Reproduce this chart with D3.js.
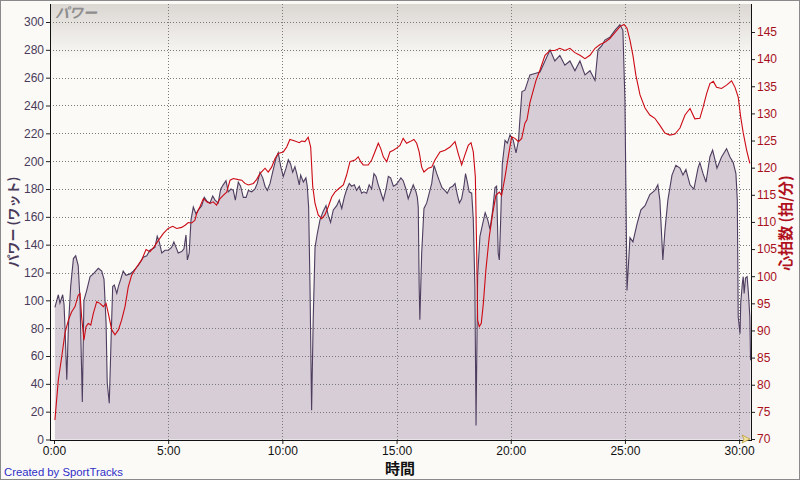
<!DOCTYPE html>
<html>
<head>
<meta charset="utf-8">
<script src="https://cdn.jsdelivr.net/npm/d3@7/dist/d3.min.js"></script>
<style>
  body { margin: 0; background: #fbfaf7; }
  svg { display: block; }
</style>
</head>
<body>
<div id="chart"></div>
<script>
// power samples (minutes, watts)
const powerMin = [0.04,0.19,0.26,0.38,0.44,0.48,0.56,0.63,0.73,0.85,0.95,1.06,1.14,1.24,1.31,1.43,1.58,1.72,1.94,2.09,2.19,2.28,2.33,2.42,2.50,2.57,2.64,2.75,2.82,2.92,3.03,3.15,3.33,3.47,3.69,3.91,4.06,4.20,4.42,4.52,4.61,4.72,4.86,5.00,5.15,5.25,5.37,5.44,5.59,5.69,5.78,5.84,5.92,6.00,6.10,6.22,6.32,6.47,6.58,6.71,6.83,6.95,7.05,7.19,7.30,7.41,7.53,7.63,7.75,7.85,7.94,8.07,8.17,8.29,8.41,8.51,8.66,8.80,8.90,9.02,9.14,9.24,9.34,9.46,9.60,9.72,9.82,9.93,10.04,10.16,10.26,10.36,10.45,10.55,10.63,10.74,10.80,10.92,11.03,11.09,11.15,11.21,11.28,11.35,11.43,11.53,11.65,11.79,11.91,12.01,12.11,12.23,12.38,12.49,12.60,12.71,12.82,12.93,13.03,13.15,13.25,13.37,13.47,13.57,13.69,13.80,13.91,14.01,14.10,14.20,14.30,14.42,14.54,14.64,14.74,14.86,14.97,15.07,15.19,15.29,15.41,15.51,15.62,15.73,15.85,15.91,15.95,15.99,16.02,16.10,16.20,16.32,16.43,16.54,16.64,16.76,16.87,16.99,17.11,17.22,17.34,17.46,17.56,17.66,17.75,17.85,17.95,18.02,18.10,18.18,18.29,18.36,18.43,18.48,18.55,18.65,18.77,18.88,18.99,19.09,19.21,19.31,19.38,19.45,19.50,19.56,19.63,19.75,19.85,19.97,20.11,20.23,20.34,20.40,20.49,20.62,20.84,21.06,21.28,21.50,21.72,21.93,22.15,22.37,22.59,22.81,23.03,23.25,23.47,23.69,23.82,23.99,24.12,24.34,24.56,24.78,24.91,25.00,25.09,25.22,25.35,25.53,25.70,25.88,26.09,26.31,26.44,26.53,26.66,26.75,26.88,27.06,27.23,27.41,27.54,27.67,27.85,28.02,28.20,28.28,28.42,28.55,28.72,28.84,29.03,29.23,29.45,29.60,29.74,29.86,29.92,29.96,30.04,30.07,30.14,30.18,30.22,30.28,30.35,30.40,30.47,30.50];
const powerW = [95,104,98,104,97,81,43,81,110,130,132,125,100,27,100,107,117,119,123,121,115,84,41,26,72,110,111,105,110,115,121,118,119,121,125,131,132,136,138,146,142,134,136,136,138,142,137,134,135,137,147,129,134,158,167,162,165,168,174,171,170,175,172,170,180,183,186,178,180,179,172,185,182,174,174,179,178,180,184,192,188,182,179,184,194,202,206,196,189,195,201,198,192,196,191,183,190,185,188,182,167,110,21,86,138,148,158,164,168,161,156,165,168,172,166,174,180,184,182,183,179,182,177,178,177,183,180,191,189,183,178,172,180,189,188,182,183,185,188,186,180,173,178,183,178,174,167,110,86,134,166,170,177,184,197,191,186,181,179,177,181,182,184,176,170,173,182,191,185,178,177,158,110,10,117,146,155,163,158,151,165,181,182,134,129,158,198,215,213,219,215,206,215,230,250,251,262,263,264,272,280,272,276,269,272,265,272,262,265,258,280,283,287,289,294,298,294,244,107,145,142,155,165,168,176,179,183,172,129,150,172,190,197,195,190,194,183,180,195,199,191,185,203,208,195,203,209,203,199,191,172,88,76,98,112,117,105,116,117,107,88,57];

// heart rate samples (minutes, bpm)
const hrMin = [0.04,0.19,0.34,0.48,0.63,0.77,0.92,1.06,1.14,1.21,1.31,1.40,1.50,1.61,1.72,1.87,2.01,2.16,2.28,2.38,2.53,2.67,2.82,2.96,3.11,3.25,3.40,3.62,3.84,4.03,4.20,4.38,4.57,4.79,5.00,5.20,5.37,5.59,5.74,5.88,6.03,6.17,6.25,6.39,6.54,6.69,6.83,6.97,7.12,7.27,7.41,7.56,7.71,7.85,8.07,8.22,8.36,8.51,8.73,8.87,9.02,9.24,9.38,9.53,9.68,9.82,10.04,10.19,10.33,10.55,10.74,10.84,10.99,11.13,11.24,11.33,11.43,11.57,11.72,11.86,12.01,12.16,12.30,12.49,12.67,12.81,12.96,13.18,13.32,13.43,13.54,13.76,13.91,14.05,14.20,14.30,14.42,14.57,14.71,14.86,15.00,15.15,15.29,15.44,15.59,15.76,15.88,15.99,16.10,16.20,16.39,16.54,16.68,16.90,17.12,17.34,17.56,17.70,17.85,17.99,18.14,18.26,18.36,18.45,18.51,18.55,18.62,18.71,18.80,18.91,19.06,19.21,19.35,19.50,19.60,19.75,19.89,20.04,20.18,20.34,20.48,20.62,20.71,20.84,21.10,21.28,21.50,21.72,21.93,22.15,22.37,22.59,22.81,23.03,23.25,23.47,23.69,23.91,24.12,24.34,24.56,24.78,24.96,25.09,25.22,25.35,25.48,25.66,25.88,26.09,26.31,26.53,26.75,26.97,27.19,27.41,27.63,27.85,28.06,28.28,28.42,28.58,28.72,28.87,29.01,29.23,29.45,29.67,29.82,29.96,30.07,30.18,30.33,30.47];
const hrBpm = [73.5,80.9,85.2,89.5,91.9,93.4,94.4,96.5,96.8,92.5,88.2,90.7,91.3,91.0,93.1,95.3,95.0,94.4,95.0,93.1,90.1,89.2,90.1,91.9,94.4,98.0,100.2,101.7,103.0,104.9,104.5,105.4,106.6,107.9,108.8,109.2,108.8,109.0,109.4,109.9,109.8,110.3,111.6,112.8,114.3,113.7,113.4,113.7,113.1,114.3,114.9,115.5,117.7,118.0,117.8,117.7,117.1,116.8,117.1,117.8,118.9,119.9,119.2,120.1,121.7,122.6,122.9,123.8,125.2,124.9,124.6,124.9,124.8,125.6,123.8,116.5,113.4,111.3,110.6,111.3,112.8,114.6,115.5,116.2,116.8,118.6,121.1,121.4,122.0,121.1,120.5,120.5,121.4,122.9,124.5,123.6,122.0,121.1,122.9,123.2,123.6,124.1,125.4,124.5,124.8,125.2,124.5,122.9,120.1,119.2,119.9,120.1,121.4,122.9,123.2,123.8,124.8,122.6,120.5,122.3,124.1,124.6,122.9,118.3,104.2,91.9,90.7,91.3,95.0,101.1,107.3,111.6,114.9,115.5,114.9,118.3,122.0,125.7,125.4,124.8,125.4,128.2,128.8,132,136,138,140.7,141.6,141.6,142,141.6,142,141.2,140.7,140.1,140.7,142,142.7,143.1,143.8,144.9,146,146.4,145.7,143.5,140.7,137,133.4,131,129.7,129.1,127.8,126.4,126,126.2,127.3,129.7,130.9,129,129.1,131.1,133.7,135.5,135.9,134.8,134.6,135.2,136,134.8,133,129.3,126.4,123.2,120.8];

const timeTicks = [0, 5, 10, 15, 20, 25, 30];
const powerTicks = d3.range(0, 301, 20);
const hrTicks = d3.range(70, 146, 5);

const W = 800, H = 480;
const LEFT = 50, RIGHT = 751, TOP = 4, BOTTOM = 440;

const svg = d3.select("#chart").append("svg")
    .attr("width", W)
    .attr("height", H);

svg.append("rect")
    .attr("x", 0.5).attr("y", 0.5)
    .attr("width", W - 1).attr("height", H - 1)
    .attr("fill", "#fbfaf7")
    .attr("stroke", "#8a8a8a");

// scales
const x = d3.scaleLinear().domain([0, 30.52]).range([54, 751]);
const yP = d3.scaleLinear().domain([0, 300]).range([439.5, 22]);
const yH = d3.scaleLinear().domain([70, 145]).range([439, 32]);

// plot background gradient
const defs = svg.append("defs");
const grad = defs.append("linearGradient")
    .attr("id", "topfade")
    .attr("x1", 0).attr("y1", 0).attr("x2", 0).attr("y2", 1);
grad.append("stop").attr("offset", "0%").attr("stop-color", "#dbd7d3");
grad.append("stop").attr("offset", "13%").attr("stop-color", "#fbfaf7");
grad.append("stop").attr("offset", "100%").attr("stop-color", "#fbfaf7");

svg.append("rect")
    .attr("x", LEFT).attr("y", TOP)
    .attr("width", RIGHT - LEFT).attr("height", BOTTOM - TOP)
    .attr("fill", "url(#topfade)");

const powerData = powerMin.map((t, i) => ({ t: t, v: powerW[i] }));
const hrData = hrMin.map((t, i) => ({ t: t, v: hrBpm[i] }));

// area under the power line
const area = d3.area()
    .x(d => x(d.t))
    .y0(yP(0))
    .y1(d => yP(d.v));

svg.append("path")
    .datum(powerData)
    .attr("d", area)
    .attr("fill", "#d6cdd7");

// grid
const grid = svg.append("g")
    .attr("stroke", "#7a7a7a")
    .attr("stroke-dasharray", "1,2")
    .attr("shape-rendering", "crispEdges");

grid.selectAll(".hg")
    .data(powerTicks.filter(d => d > 0))
    .enter().append("line")
    .attr("x1", LEFT).attr("x2", RIGHT)
    .attr("y1", d => Math.round(yP(d)) + 0.5)
    .attr("y2", d => Math.round(yP(d)) + 0.5);

grid.selectAll(".vg")
    .data(timeTicks.filter(d => d > 0))
    .enter().append("line")
    .attr("y1", TOP).attr("y2", BOTTOM)
    .attr("x1", d => Math.round(x(d)) + 0.5)
    .attr("x2", d => Math.round(x(d)) + 0.5);

// power line
const pLine = d3.line()
    .x(d => x(d.t))
    .y(d => yP(d.v));

svg.append("path")
    .datum(powerData)
    .attr("d", pLine)
    .attr("fill", "none")
    .attr("stroke", "#4e3d5f")
    .attr("stroke-width", 1.1);

// heart rate line
const hLine = d3.line()
    .x(d => x(d.t))
    .y(d => yH(d.v));

svg.append("path")
    .datum(hrData)
    .attr("d", hLine)
    .attr("fill", "none")
    .attr("stroke", "#cc0a14")
    .attr("stroke-width", 1.1);

// axes
const tickFont = "'Liberation Sans Narrow', 'Liberation Sans', Arial, sans-serif";

const leftAxis = svg.append("g")
    .attr("transform", `translate(${LEFT},0)`)
    .call(d3.axisLeft(yP).tickValues(powerTicks).tickSize(4).tickSizeOuter(0).tickPadding(2));
leftAxis.select(".domain").remove();
leftAxis.selectAll("text")
    .attr("fill", "#4a3a5a")
    .style("font-family", tickFont)
    .style("font-size", "12px");
leftAxis.selectAll("line").attr("stroke", "#222");

const rightAxis = svg.append("g")
    .attr("transform", `translate(${RIGHT},0)`)
    .call(d3.axisRight(yH).tickValues(hrTicks).tickSize(4).tickSizeOuter(0).tickPadding(2));
rightAxis.select(".domain").remove();
rightAxis.selectAll("text")
    .attr("fill", "#a8101c")
    .style("font-family", tickFont)
    .style("font-size", "12px");
rightAxis.selectAll("line").attr("stroke", "#222");

const bottomAxis = svg.append("g")
    .attr("transform", `translate(0,${BOTTOM})`)
    .call(d3.axisBottom(x).tickValues(timeTicks).tickFormat(d => d + ":00").tickSize(4).tickSizeOuter(0).tickPadding(2));
bottomAxis.select(".domain").remove();
bottomAxis.selectAll("text")
    .attr("fill", "#111")
    .style("font-family", tickFont)
    .style("font-size", "12px");
bottomAxis.selectAll("line").attr("stroke", "#222");

// axis lines
const frame = svg.append("g").attr("stroke", "#111").attr("shape-rendering", "crispEdges");
frame.append("line").attr("x1", LEFT + 0.5).attr("x2", LEFT + 0.5).attr("y1", TOP).attr("y2", BOTTOM + 0.5);
frame.append("line").attr("x1", RIGHT + 0.5).attr("x2", RIGHT + 0.5).attr("y1", TOP).attr("y2", BOTTOM + 0.5);
frame.append("line").attr("x1", LEFT).attr("x2", RIGHT + 1).attr("y1", BOTTOM + 0.5).attr("y2", BOTTOM + 0.5);

// small end marker at the corner
svg.append("path")
    .attr("d", `M${RIGHT - 1},${BOTTOM - 1} l-8,-4 l2,4 l-2,4 z`)
    .attr("fill", "#f3e3a0")
    .attr("stroke", "#b89a3a")
    .attr("stroke-width", 0.8);

// titles
const cjk = "'Noto Sans CJK JP', 'Noto Sans', sans-serif";

svg.append("text")
    .attr("x", 55).attr("y", 18)
    .attr("fill", "#8e8e8e")
    .style("font-family", cjk)
    .style("font-size", "14px")
    .style("font-weight", "bold")
    .style("font-style", "italic")
    .text("パワー");

svg.append("text")
    .attr("transform", "translate(18,222) rotate(-90)")
    .attr("text-anchor", "middle")
    .attr("fill", "#4a3a5a")
    .style("font-family", cjk)
    .style("font-size", "13px")
    .style("font-weight", "bold")
    .text("パワー (ワット)");

svg.append("text")
    .attr("transform", "translate(791,223) rotate(-90)")
    .attr("text-anchor", "middle")
    .attr("fill", "#b0101c")
    .style("font-family", cjk)
    .style("font-size", "15px")
    .style("font-weight", "bold")
    .text("心拍数 (拍/分)");

svg.append("text")
    .attr("x", 400).attr("y", 474)
    .attr("text-anchor", "middle")
    .attr("fill", "#111")
    .style("font-family", cjk)
    .style("font-size", "15px")
    .style("font-weight", "bold")
    .text("時間");

svg.append("text")
    .attr("x", 4).attr("y", 476)
    .attr("fill", "#2f2fc8")
    .style("font-family", "'Liberation Sans', Arial, sans-serif")
    .style("font-size", "11.3px")
    .text("Created by SportTracks");
</script>
</body>
</html>
